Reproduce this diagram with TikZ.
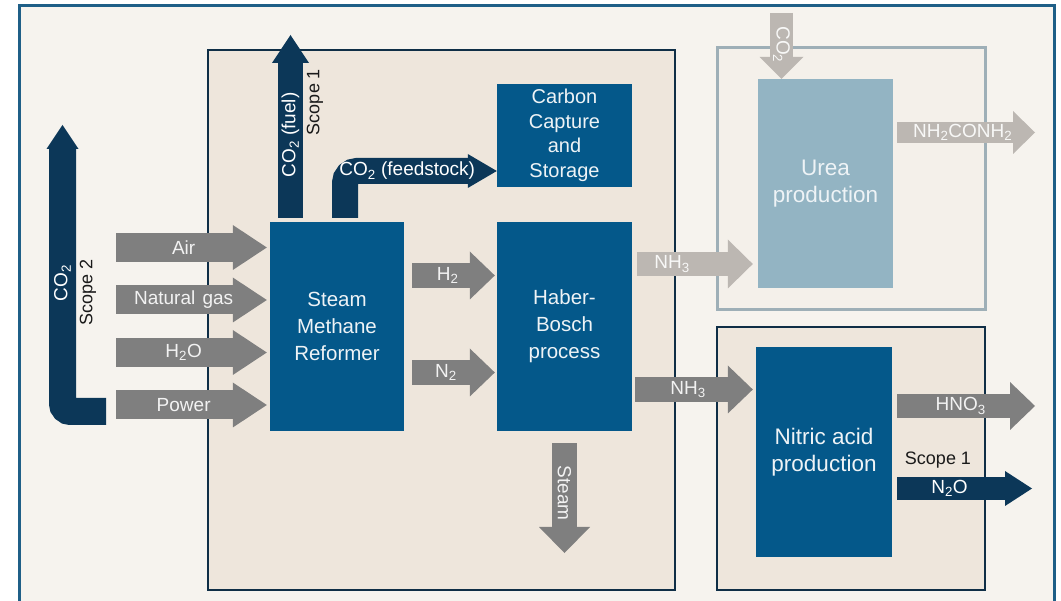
\documentclass[tikz,border=0pt]{standalone}
\usepackage{fontspec}
\setmainfont{Liberation Sans}
\usetikzlibrary{arrows.meta}
\definecolor{pagebg}{HTML}{F6F3EE}
\definecolor{framebl}{HTML}{1F5F87}
\definecolor{plantbg}{HTML}{EEE6DC}
\definecolor{plantln}{HTML}{0F2E46}
\definecolor{procbl}{HTML}{04588A}
\definecolor{navy}{HTML}{0C3758}
\definecolor{flowgr}{HTML}{7F7F7F}
\definecolor{flowlt}{HTML}{BCB7B2}
\definecolor{ureabl}{HTML}{93B4C3}
\definecolor{urealn}{HTML}{9EAFB7}
\definecolor{ureabg}{HTML}{F4F0EA}
\definecolor{paletxt}{HTML}{EEF3F6}
\definecolor{inktxt}{HTML}{1A1A1A}
\begin{document}
\begin{tikzpicture}[x=1pt,y=-1pt,
    proc/.style={fill=procbl,text=paletxt,align=center,inner sep=0pt,
      minimum width=135pt,minimum height=209pt,font=\fontsize{20.5}{27}\selectfont},
    big/.style={font=\fontsize{22.5}{27}\selectfont},
    lbl/.style={inner sep=0pt,font=\fontsize{19}{22}\selectfont},
    scopetxt/.style={inner sep=0pt,text=inktxt,font=\fontsize{18}{22}\selectfont},
    fat/.style n args={3}{line width=#1,
      -{Triangle[width=#2,length=#3,line width=0pt]}},
    grayflow/.style={draw=flowgr,text=white!95!black},
    paleflow/.style={draw=flowlt,text=white!90!flowlt},
    darkflow/.style={draw=navy,text=white}]
  \useasboundingbox (0,0) rectangle (1061,601);
  \clip (0,0) rectangle (1061,601);
  \draw[framebl,line width=3pt,fill=pagebg] (19,6) rectangle (1054,630);
  \draw[plantln,line width=2.5pt,fill=plantbg] (208,50) rectangle (675,590);
  \draw[urealn,line width=3pt,fill=ureabg] (717,48) rectangle (985,310);
  \draw[plantln,line width=2.5pt,fill=plantbg] (717,327) rectangle (985,590);

  \node[proc,minimum width=134pt] (smr) at (337,326.5) {Steam\\Methane\\Reformer};
  \node[proc] (hb) at (564.5,326.5) {Haber-\\Bosch\\process};
  \node[proc,minimum height=103pt,font=\fontsize{20}{24.5}\selectfont] (ccs)
    at (564.5,135.5) {Carbon\\Capture\\and\\Storage};
  \node[proc,big,fill=ureabl] (urea) at (825.5,183.5) {Urea\\production};
  \node[proc,big,minimum width=136pt,minimum height=210pt] (nitric)
    at (824,452) {Nitric acid\\production};

  \coordinate (air) at (116,247.5);
  \coordinate (gas) at (116,300);
  \coordinate (water) at (116,352.5);
  \coordinate (power) at (116,405);
  \begin{scope}[grayflow,fat={29pt}{45pt}{34pt},shorten >=3pt]
    \draw (air) -- (air -| smr.west) node[lbl,pos=.44]{Air};
    \draw (gas) -- (gas -| smr.west) node[lbl,pos=.44]{Natural\hspace{2pt} gas};
    \draw (water) -- (water -| smr.west) node[lbl,pos=.44]{H\textsubscript{2}O};
    \draw (power) -- (power -| smr.west) node[lbl,pos=.44]{Power};
  \end{scope}

  \coordinate (h2) at (412,275.5);
  \coordinate (n2) at (412,372.5);
  \begin{scope}[grayflow,fat={25pt}{48pt}{25pt},shorten >=2pt]
    \draw (h2) -- (h2 -| hb.west) node[lbl,pos=.42]{H\textsubscript{2}};
    \draw (n2) -- (n2 -| hb.west) node[lbl,pos=.40]{N\textsubscript{2}};
  \end{scope}

  \coordinate (nh3a) at (637,264);
  \coordinate (nh3b) at (635,389.5);
  \draw[paleflow,fat={24pt}{49pt}{25pt},shorten >=5pt]
    (nh3a) -- (nh3a -| urea.west) node[lbl,pos=.29]{NH\textsubscript{3}};
  \draw[grayflow,fat={25pt}{48pt}{25pt},shorten >=3pt]
    (nh3b) -- (nh3b -| nitric.west) node[lbl,pos=.44]{NH\textsubscript{3}};

  \coordinate (hno3) at (1035,406);
  \coordinate (n2o) at (1032,488.5);
  \draw[grayflow,fat={24pt}{48pt}{25pt},shorten <=5pt]
    (nitric.east |- hno3) -- (hno3) node[lbl,pos=.48]{HNO\textsubscript{3}};
  \draw[darkflow,fat={23pt}{35pt}{27pt},shorten <=5pt]
    (nitric.east |- n2o) -- (n2o) node[lbl,pos=.41]{N\textsubscript{2}O};
  \node[scopetxt] (scopeN) at (938,460) {Scope 1};

  \coordinate (ureaout) at (1035,132.5);
  \coordinate (co2in) at (781.5,13);
  \draw[paleflow,fat={21pt}{43pt}{22pt},shorten <=4pt]
    (urea.east |- ureaout) -- (ureaout) node[lbl,pos=.49]{NH\textsubscript{2}CONH\textsubscript{2}};
  \draw[paleflow,fat={23pt}{44pt}{22pt}]
    (co2in) -- (co2in |- urea.north) node[lbl,pos=.48,rotate=-90]{CO\textsubscript{2}};

  \coordinate (steam) at (564.5,553);
  \draw[grayflow,fat={25pt}{51pt}{26pt},shorten <=12pt]
    (hb.south) -- (steam) node[lbl,pos=.51,rotate=-90]{Steam};

  \coordinate (fuel) at (290.5,35);
  \draw[darkflow,fat={25pt}{37pt}{28pt},shorten <=4pt]
    (smr.north -| fuel) -- (fuel) node[lbl,pos=.465,rotate=90]{CO\textsubscript{2} (fuel)};
  \node[scopetxt,rotate=90] (scopeF) at (315,102) {Scope 1};

  \coordinate (feedbend) at (345,171);
  \draw[darkflow,fat={26pt}{34pt}{29pt},rounded corners=12pt,shorten <=4pt]
    (smr.north -| feedbend) -- (feedbend) -- (feedbend -| ccs.west)
    node[lbl,pos=.41]{CO\textsubscript{2} (feedstock)};

  \coordinate (gridend) at (106,411.5);
  \coordinate (gridbend) at (62.5,411.5);
  \coordinate (gridtip) at (62.5,125);
  \draw[darkflow,fat={27pt}{32pt}{24pt},rounded corners=8pt]
    (gridend) -- (gridbend) -- (gridtip);
  \node[lbl,rotate=90,text=white] (co2grid) at (62.5,283) {CO\textsubscript{2}};
  \node[scopetxt,rotate=90] (scopeG) at (88,292) {Scope 2};
\end{tikzpicture}
\end{document}
